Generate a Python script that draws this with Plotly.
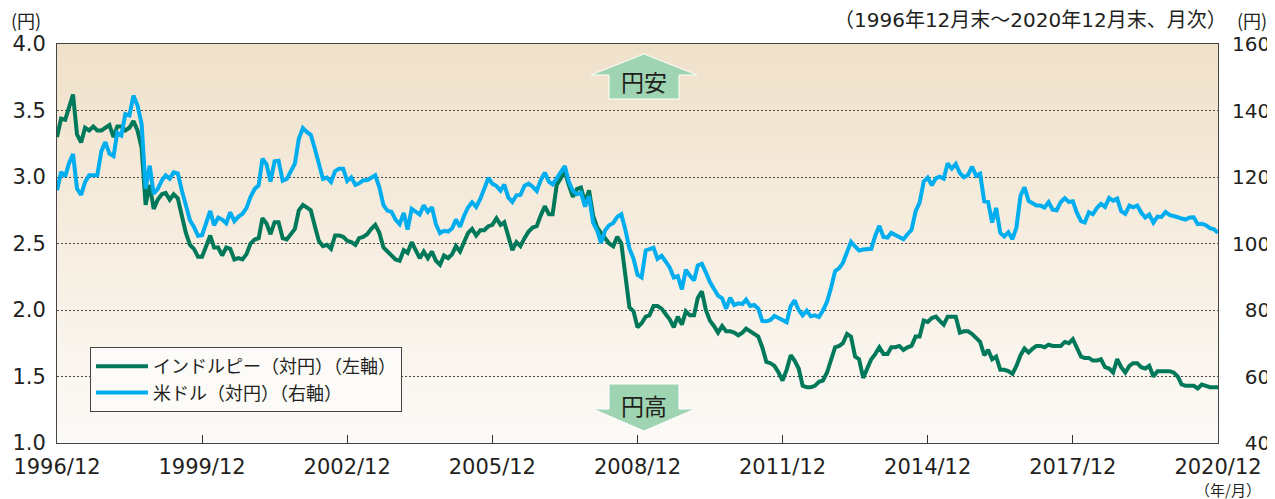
import plotly.graph_objects as go
import pandas as pd

# ---------------- data ----------------
months = pd.date_range("1996-12-01", "2020-12-01", freq="MS")

usd_jpy = [
    116.0,
    121.5, 120.2, 124.0, 126.9, 116.5, 114.6, 118.5, 120.5, 120.6, 120.5, 127.8, 130.5,  # 1997
    127.0, 126.3, 133.3, 132.5, 138.9, 138.5, 144.5, 141.5, 135.9, 116.5, 123.4, 115.0,  # 1998
    116.4, 119.0, 120.5, 119.5, 121.4, 121.1, 116.0, 111.0, 107.0, 105.0, 102.3, 102.5,  # 1999
    106.5, 109.8, 105.5, 107.8, 107.2, 106.1, 109.4, 106.7, 108.1, 108.9, 110.7, 114.0,  # 2000
    116.4, 117.5, 125.5, 123.8, 118.6, 124.7, 124.9, 118.9, 119.4, 122.0, 124.0, 131.5,  # 2001
    134.7, 133.5, 132.7, 128.5, 124.0, 119.4, 119.8, 118.5, 121.8, 122.5, 122.5, 118.8,  # 2002
    119.9, 117.6, 118.1, 119.0, 119.0, 119.8, 120.5, 116.9, 111.5, 109.9, 109.5, 107.2,  # 2003
    105.8, 109.2, 104.2, 110.4, 109.5, 108.7, 111.5, 109.5, 110.9, 105.8, 103.1, 103.8,  # 2004
    103.6, 104.6, 107.2, 105.0, 108.3, 110.9, 112.4, 111.0, 113.4, 116.5, 119.7, 118.0,  # 2005
    117.3, 115.9, 117.7, 113.8, 112.5, 114.5, 114.6, 117.4, 118.0, 117.1, 115.8, 119.0,  # 2006
    121.3, 118.6, 117.8, 119.6, 121.7, 123.3, 118.6, 115.8, 114.8, 115.3, 111.1, 114.2,  # 2007
    106.3, 103.9, 100.2, 104.0, 105.5, 106.2, 108.0, 108.8, 104.0, 98.5, 95.4, 90.6,     # 2008
    89.8, 97.9, 98.3, 98.7, 95.4, 96.3, 94.6, 92.8, 89.8, 90.2, 86.2, 92.1,              # 2009
    90.3, 88.9, 93.4, 93.9, 91.3, 88.4, 86.4, 84.3, 83.5, 80.4, 83.7, 81.5,              # 2010
    82.0, 81.8, 83.1, 81.2, 81.5, 80.4, 76.7, 76.6, 77.0, 78.2, 77.6, 76.9,              # 2011
    76.3, 81.2, 82.9, 80.0, 78.4, 79.8, 78.1, 78.4, 77.9, 79.8, 82.5, 86.6,              # 2012
    91.7, 92.6, 94.2, 97.4, 100.5, 99.1, 97.9, 98.2, 98.3, 98.4, 102.4, 105.3,           # 2013
    102.0, 101.8, 103.2, 102.5, 101.8, 101.3, 102.8, 104.1, 109.7, 112.3, 118.6, 119.8,  # 2014
    117.5, 119.6, 120.1, 119.5, 124.1, 122.5, 123.9, 121.2, 119.9, 120.6, 123.1, 120.4,  # 2015
    121.0, 112.7, 112.5, 106.3, 110.7, 103.2, 102.1, 103.4, 101.3, 104.8, 114.4, 116.9,  # 2016
    112.8, 112.1, 111.4, 111.4, 110.8, 112.4, 110.2, 110.0, 112.5, 113.6, 112.5, 112.7,  # 2017
    109.2, 106.7, 106.3, 109.4, 108.8, 110.7, 111.9, 111.0, 113.7, 112.9, 113.5, 109.7,  # 2018
    108.9, 111.4, 110.9, 111.4, 109.3, 107.8, 108.7, 106.3, 108.1, 108.0, 109.5, 108.6,  # 2019
    108.4, 107.9, 107.5, 107.2, 107.8, 107.9, 105.8, 105.9, 105.5, 104.6, 104.3, 103.2,  # 2020
]

inr_jpy = [
    3.30,
    3.44, 3.43, 3.52, 3.62, 3.32, 3.26, 3.37, 3.35, 3.38, 3.35, 3.35, 3.37,  # 1997
    3.39, 3.30, 3.38, 3.38, 3.35, 3.37, 3.42, 3.35, 3.22, 2.79, 2.94, 2.76,  # 1998
    2.83, 2.87, 2.88, 2.83, 2.87, 2.84, 2.70, 2.58, 2.49, 2.46, 2.40, 2.40,  # 1999
    2.48, 2.56, 2.47, 2.47, 2.41, 2.47, 2.46, 2.38, 2.39, 2.38, 2.42, 2.50,  # 2000
    2.53, 2.54, 2.69, 2.65, 2.57, 2.66, 2.66, 2.54, 2.53, 2.57, 2.61, 2.75,  # 2001
    2.79, 2.77, 2.75, 2.63, 2.52, 2.48, 2.49, 2.46, 2.56, 2.56, 2.55, 2.52,  # 2002
    2.51, 2.49, 2.54, 2.55, 2.57, 2.61, 2.64, 2.58, 2.47, 2.44, 2.41, 2.38,  # 2003
    2.37, 2.45, 2.43, 2.51, 2.45, 2.39, 2.44, 2.39, 2.44, 2.37, 2.34, 2.41,  # 2004
    2.39, 2.42, 2.48, 2.44, 2.51, 2.58, 2.61, 2.56, 2.60, 2.60, 2.63, 2.64,  # 2005
    2.69, 2.64, 2.66, 2.55, 2.45, 2.51, 2.48, 2.54, 2.59, 2.62, 2.63, 2.71,  # 2006
    2.78, 2.72, 2.72, 2.94, 2.99, 3.04, 2.94, 2.85, 2.91, 2.92, 2.81, 2.90,  # 2007
    2.71, 2.62, 2.58, 2.54, 2.50, 2.48, 2.55, 2.50, 2.24, 2.02, 1.99, 1.87,  # 2008
    1.90, 1.95, 1.96, 2.03, 2.03, 2.01, 1.97, 1.93, 1.87, 1.95, 1.89, 1.99,  # 2009
    1.96, 1.96, 2.09, 2.14, 2.00, 1.92, 1.88, 1.83, 1.88, 1.84, 1.84, 1.83,  # 2010
    1.81, 1.83, 1.86, 1.84, 1.82, 1.80, 1.72, 1.61, 1.60, 1.58, 1.53, 1.47,  # 2011
    1.55, 1.66, 1.62, 1.56, 1.43, 1.42, 1.42, 1.43, 1.46, 1.47, 1.53, 1.62,  # 2012
    1.72, 1.73, 1.75, 1.82, 1.80, 1.65, 1.63, 1.49, 1.57, 1.63, 1.67, 1.72,  # 2013
    1.67, 1.67, 1.72, 1.72, 1.73, 1.70, 1.72, 1.73, 1.80, 1.80, 1.92, 1.91,  # 2014
    1.94, 1.95, 1.92, 1.89, 1.95, 1.95, 1.95, 1.83, 1.84, 1.84, 1.82, 1.79,  # 2015
    1.76, 1.66, 1.70, 1.63, 1.65, 1.55, 1.55, 1.54, 1.52, 1.58, 1.66, 1.71,  # 2016
    1.68, 1.71, 1.73, 1.73, 1.72, 1.74, 1.73, 1.73, 1.73, 1.76, 1.75, 1.78,  # 2017
    1.71, 1.65, 1.64, 1.64, 1.62, 1.62, 1.63, 1.57, 1.56, 1.53, 1.63, 1.57,  # 2018
    1.53, 1.58, 1.60, 1.60, 1.57, 1.56, 1.58, 1.50, 1.54, 1.54, 1.54, 1.54,  # 2019
    1.53, 1.50, 1.44, 1.43, 1.43, 1.43, 1.41, 1.44, 1.43, 1.42, 1.42, 1.42,  # 2020
]

tick_dates = ["1996-12-01", "1999-12-01", "2002-12-01", "2005-12-01", "2008-12-01",
              "2011-12-01", "2014-12-01", "2017-12-01", "2020-12-01"]
tick_labels = ["1996/12", "1999/12", "2002/12", "2005/12", "2008/12",
               "2011/12", "2014/12", "2017/12", "2020/12"]
left_ticks = [1.0, 1.5, 2.0, 2.5, 3.0, 3.5, 4.0]
left_labels = ["1.0", "1.5", "2.0", "2.5", "3.0", "3.5", "4.0"]
right_ticks = [40, 60, 80, 100, 120, 140, 160]
right_labels = ["\u200740", "\u200760", "\u200780", "100", "120", "140", "160"]

name_inr = "インドルピー（対円）（左軸）"
name_usd = "米ドル（対円）（右軸）"

# ---------------- geometry (page pixels; the page body adds an 8px offset) ----------------
OFF = 8
W, H = 1275 - OFF, 499 - OFF
PL, PR, PT, PB = 57, 1218, 44, 443  # plot area in page pixels


def px(x):
    return (x - PL) / (PR - PL)


def py(y):
    return (PB - y) / (PB - PT)


def path(points):
    return "M " + " L ".join(f"{px(x):.5f},{py(y):.5f}" for x, y in points) + " Z"


NUM_FONT = "DejaVu Sans, Noto Sans CJK JP"
JP_FONT = "Noto Sans CJK JP, DejaVu Sans"
TXT = "#231f20"

fig = go.Figure()
fig.add_trace(go.Scatter(x=months, y=inr_jpy, name=name_inr, mode="lines",
                         line=dict(color="#00795a", width=4), yaxis="y"))
fig.add_trace(go.Scatter(x=months, y=usd_jpy, name=name_usd, mode="lines",
                         line=dict(color="#00adee", width=4), yaxis="y2"))

shapes = []
# vertical gradient background in the plot area
top_c = (240, 225, 202)
bot_c = (252, 250, 247)
n = 80
for k in range(n):
    t = (k + 0.5) / n
    c = tuple(round(bot_c[i] + (top_c[i] - bot_c[i]) * t) for i in range(3))
    shapes.append(dict(type="rect", xref="paper", yref="paper", x0=0, x1=1,
                       y0=k / n, y1=min(1, (k + 1) / n + 0.003),
                       fillcolor=f"rgb{c}", line=dict(width=0), layer="below"))

arrow_fill = "#9fd4b2"
up = [(644, 54), (697, 75), (679, 75), (679, 99), (609, 99), (609, 75), (591, 75)]
down = [(609, 384), (679, 384), (679, 409), (695, 409), (644, 431), (593, 409), (609, 409)]
for pts in (up, down):
    shapes.append(dict(type="path", xref="paper", yref="paper", path=path(pts),
                       fillcolor=arrow_fill, line=dict(color="white", width=1), layer="above"))


def note(text, x, y, size, family=JP_FONT, xanchor="center"):
    return dict(text=text, x=px(x), y=py(y), xref="paper", yref="paper", showarrow=False,
                xanchor=xanchor, yanchor="middle", borderpad=0,
                font=dict(family=family, size=size, color=TXT))


annotations = [
    note("円安", 644, 81, 23),
    note("円高", 644, 405, 23),
    note("(円)", 26, 20, 18),
    note("(円)", 1252, 20, 18),
    note("（1996年12月末～2020年12月末、月次）", 1228, 20, 20, family=NUM_FONT, xanchor="right"),
    note("（年/月）", 1228, 489, 15),
]

fig.update_layout(
    width=W, height=H,
    margin=dict(l=PL - OFF, r=W - (PR - OFF), t=PT - OFF, b=H - (PB - OFF), autoexpand=False),
    paper_bgcolor="white", plot_bgcolor=f"rgb{bot_c}",
    shapes=shapes, annotations=annotations,
    xaxis=dict(type="date", range=["1996-12-01", "2020-12-01"], tickvals=tick_dates,
               ticktext=tick_labels, ticks="inside", ticklen=8, tickwidth=1, tickcolor="#333",
               showgrid=False, zeroline=False, showline=True, linecolor="#444", linewidth=1,
               mirror=True, ticklabelstandoff=5,
               tickfont=dict(family=NUM_FONT, size=21, color=TXT)),
    yaxis=dict(range=[1, 4], tickvals=left_ticks, ticktext=left_labels, ticks="",
               showgrid=True, gridcolor="#4a4a4a", griddash="2px,2px", gridwidth=1,
               zeroline=False, showline=True, linecolor="#444", linewidth=1, mirror=True,
               ticklabelstandoff=6, tickfont=dict(family=NUM_FONT, size=21, color=TXT)),
    yaxis2=dict(range=[40, 160], overlaying="y", side="right", tickvals=right_ticks,
                ticktext=right_labels, ticks="", showgrid=False, zeroline=False, showline=False,
                ticklabelstandoff=13, tickfont=dict(family=NUM_FONT, size=20, color=TXT)),
    legend=dict(x=px(90), y=py(347), xanchor="left", yanchor="top", bgcolor="#fcfbf8",
                bordercolor="#444", borderwidth=1, tracegroupgap=0, itemwidth=52,
                font=dict(family=JP_FONT, size=18, color=TXT)),
    showlegend=True,
)

fig.write_html("out.html")
